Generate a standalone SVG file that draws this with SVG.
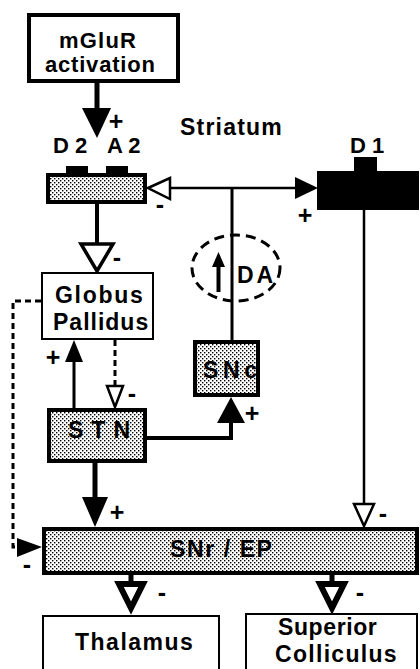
<svg xmlns="http://www.w3.org/2000/svg" width="420" height="669" viewBox="0 0 420 669">
<style>
text{font-family:"Liberation Sans",Arial,Helvetica,sans-serif;font-weight:bold;font-size:23px;fill:#000}
.sign{text-anchor:middle;font-size:25px}
.lbl{font-size:22px}
.box{fill:#fff;stroke:#000}
.dot{fill:url(#dots);stroke:#000;stroke-width:4}
.ln{fill:none;stroke:#000}
.dash{fill:none;stroke:#000;stroke-width:3;stroke-dasharray:6 4}
.fa{fill:#000;stroke:none}
.oa{fill:#fff;stroke:#000;stroke-linejoin:miter}
</style>
<defs>
<pattern id="dots" width="4" height="4" patternUnits="userSpaceOnUse">
<rect width="4" height="4" fill="#fff"/>
<rect x="0" y="0" width="1.4" height="1.4" fill="#000"/>
<rect x="2" y="2" width="1.4" height="1.4" fill="#000"/>
</pattern>
</defs>
<rect width="420" height="669" fill="#fff"/>

<g id="connectors">
<!-- mGluR -> striatum -->
<line class="ln" x1="97" y1="83" x2="97" y2="110" stroke-width="5"/>
<polygon class="fa" points="82,108 111,108 97,138"/>
<!-- horizontal from junction to striatum (open) and D1 (filled) -->
<line class="ln" x1="170" y1="188" x2="296" y2="188" stroke-width="2.5"/>
<polygon class="oa" points="148,188 170,178 170,199" stroke-width="2.5"/>
<polygon class="fa" points="295,177 295,199 318,188"/>
<!-- SNc up to junction -->
<line class="ln" x1="232" y1="188" x2="232" y2="342" stroke-width="3"/>
<!-- striatum -> GP -->
<line class="ln" x1="97" y1="204" x2="97" y2="245" stroke-width="4"/>
<polygon class="oa" points="81,244 113,244 97,271" stroke-width="3.5"/>
<!-- D1 -> SNr -->
<line class="ln" x1="364" y1="209" x2="364" y2="505" stroke-width="2.5"/>
<polygon class="oa" points="354,504 374,504 364,526" stroke-width="2.5"/>
<!-- STN -> GP -->
<line class="ln" x1="74" y1="410" x2="74" y2="360" stroke-width="3"/>
<polygon class="fa" points="65,362 83,362 74,340"/>
<!-- GP -> STN dashed -->
<line class="dash" x1="115" y1="340" x2="115" y2="386"/>
<polygon class="oa" points="107,386 123,386 115,407" stroke-width="2.5"/>
<!-- GP -> SNr dashed -->
<polyline class="dash" points="41,301 13,301 13,547 20,547"/>
<polygon class="fa" points="17,538 17,557 42,547"/>
<!-- STN -> SNc -->
<polyline class="ln" points="147,438 231,438 231,421" stroke-width="4"/>
<polygon class="fa" points="217,423 245,423 231,397"/>
<!-- STN -> SNr -->
<line class="ln" x1="95" y1="463" x2="95" y2="499" stroke-width="5"/>
<polygon class="fa" points="82,497 108,497 95,527"/>
<!-- SNr -> Thalamus -->
<line class="ln" x1="131" y1="575" x2="131" y2="586" stroke-width="5"/>
<polygon class="oa" points="119,584 143,584 131,608" stroke-width="6"/>
<!-- SNr -> Superior Colliculus -->
<line class="ln" x1="332" y1="575" x2="332" y2="586" stroke-width="5"/>
<polygon class="oa" points="320,584 344,584 332,608" stroke-width="6"/>
<!-- signs -->
<text class="sign" x="116" y="130">+</text>
<text class="sign" x="160" y="213">-</text>
<text class="sign" x="305" y="224">+</text>
<text class="sign" x="117" y="266">-</text>
<text class="sign" x="53" y="366">+</text>
<text class="sign" x="132" y="402">-</text>
<text class="sign" x="252" y="422">+</text>
<text class="sign" x="117" y="521">+</text>
<text class="sign" x="383" y="522">-</text>
<text class="sign" x="27" y="573">-</text>
<text class="sign" x="162" y="601">-</text>
<text class="sign" x="360" y="601">-</text>
</g>

<g id="mglur">
<rect class="box" x="29" y="15" width="149" height="66" stroke-width="4"/>
<text class="lbl" x="59" y="48" letter-spacing="1.2">mGluR</text>
<text class="lbl" x="45" y="72" letter-spacing="0.8">activation</text>
</g>

<g id="striatum-label">
<text x="180" y="135" letter-spacing="1.2">Striatum</text>
</g>

<g id="striatum-d2a2">
<rect class="dot" x="48" y="175" width="97" height="27"/>
<rect x="66" y="166" width="22" height="9" fill="#000"/>
<rect x="106" y="166" width="22" height="9" fill="#000"/>
<text class="lbl" x="53" y="153">D 2</text>
<text class="lbl" x="107" y="153">A 2</text>
</g>

<g id="striatum-d1">
<rect x="317" y="171" width="102" height="39" fill="#000"/>
<rect x="354" y="157" width="23" height="15" fill="#000"/>
<text class="lbl" x="350" y="153">D 1</text>
</g>

<g id="da">
<ellipse cx="236" cy="268" rx="44" ry="33" fill="none" stroke="#000" stroke-width="3" stroke-dasharray="10 6"/>
<line class="ln" x1="218.5" y1="292" x2="218.5" y2="264" stroke-width="4"/>
<polygon class="fa" points="212,267 225,267 218.5,252"/>
<text x="237" y="283" letter-spacing="2.8">DA</text>
</g>

<g id="globus-pallidus">
<rect class="box" x="42" y="273" width="111" height="66" stroke-width="2"/>
<text x="55" y="303" letter-spacing="1.7">Globus</text>
<text x="53" y="330" letter-spacing="1">Pallidus</text>
</g>

<g id="snc">
<rect class="dot" x="195" y="342" width="63" height="53"/>
<text x="203" y="378" letter-spacing="4.6">SNc</text>
</g>

<g id="stn">
<rect class="dot" x="49" y="410" width="96" height="51"/>
<text x="68" y="438" letter-spacing="8">STN</text>
</g>

<g id="snr-ep">
<rect class="dot" x="44" y="529" width="373" height="44"/>
<text x="170" y="557" letter-spacing="1.6">SNr / EP</text>
</g>

<g id="thalamus">
<rect class="box" x="43" y="616" width="176" height="60" stroke-width="2"/>
<text x="75" y="650" letter-spacing="1.5">Thalamus</text>
</g>

<g id="superior-colliculus">
<rect class="box" x="246" y="614" width="171" height="60" stroke-width="2"/>
<text x="278" y="635" letter-spacing="0.6">Superior</text>
<text x="275" y="662" letter-spacing="1.3">Colliculus</text>
</g>
</svg>
